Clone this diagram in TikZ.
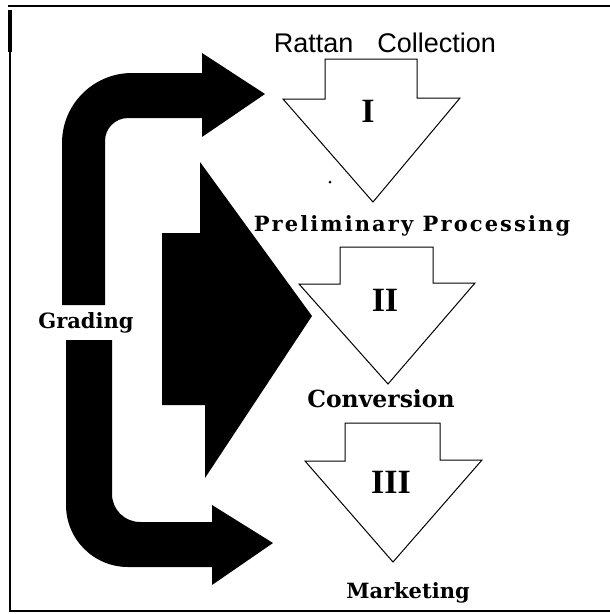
\documentclass[tikz,border=0pt]{standalone}
\usepackage{fontspec}
\newfontfamily\sansfont{Liberation Sans}
\newfontfamily\headfont{DejaVu Serif}
\newfontfamily\widefont[LetterSpace=10]{DejaVu Serif}
\newfontfamily\numfont{Liberation Serif}
\tikzset{
	solidshape/.style={fill=black, draw=none},
	hollowarrow/.style={draw=black, line width=1pt, line join=miter},
	framerule/.style={line width=2pt},
	steplabel/.style={inner sep=0pt, anchor=base, font=\fontsize{23.5}{25}\selectfont\headfont\bfseries},
	stagenum/.style={inner sep=0pt, anchor=base, font=\fontsize{34}{36}\selectfont\numfont\bfseries}
}

\begin{document}
\begin{tikzpicture}[x=1pt, y=-1pt]
		%%%%% START %%%%%
		\useasboundingbox (0,0) rectangle (610,614);
		
		% frame
		\draw[framerule] (610,6) -- (8,6);
		\draw[framerule] (610,611) -- (10,611) -- (10,10);
		\fill (8,10) rectangle (12,52);
		
		% grading arrows
		\fill[solidshape] (62,305) -- (62,143) arc (180:270:70) -- (202,73) -- (202,53) -- (265,94)
			-- (202,137) -- (202,118) -- (128,118) arc (270:180:23) -- (105,305) -- cycle;
		\fill[solidshape] (66,340) -- (66,505) arc (180:90:62) -- (212,567) -- (212,585) -- (273,543)
			-- (212,505) -- (212,522) -- (140,522) arc (90:180:28) -- (112,340) -- cycle;
		\fill[solidshape] (200,162) -- (312,316) -- (205,478) -- (205,405) -- (162,405)
			-- (162,233) -- (200,233) -- cycle;
		
		% stages
		\draw[hollowarrow] (325,59) -- (417,59) -- (417,98) -- (460,98) -- (373,202) -- (283,99) -- (325,99) -- cycle;
		\draw[hollowarrow] (340,247) -- (433,247) -- (433,283) -- (475,283) -- (388,384) -- (299,284) -- (340,284) -- cycle;
		\draw[hollowarrow] (345,423) -- (440,423) -- (440,460) -- (482,460) -- (393,562) -- (305,461) -- (345,461) -- cycle;
		\fill (330,182) circle (1.5);
		
		\node[stagenum] (stageI) at (368,122) {I};
		\node[stagenum] (stageII) at (385,311) {II};
		\node[stagenum] (stageIII) at (391,493) {III};
		
		% labels
		\node[inner sep=0pt, anchor=base, font=\fontsize{27}{29}\selectfont\sansfont] (rattan) at (385,52) {Rattan\hspace{24pt}Collection};
		\node[inner sep=0pt, anchor=base, font=\fontsize{21}{23}\selectfont\widefont\bfseries] (prelim) at (412,231) {Preliminary Processing};
		\node[steplabel, font=\fontsize{21}{23}\selectfont\headfont\bfseries] (grading) at (86,328) {Grading};
		\node[steplabel] (conversion) at (381,407) {Conversion};
		\node[steplabel, font=\fontsize{21}{23}\selectfont\headfont\bfseries] (marketing) at (408,598) {Marketing};
		
		%%%%% END %%%%%
	\end{tikzpicture}
\end{document}
